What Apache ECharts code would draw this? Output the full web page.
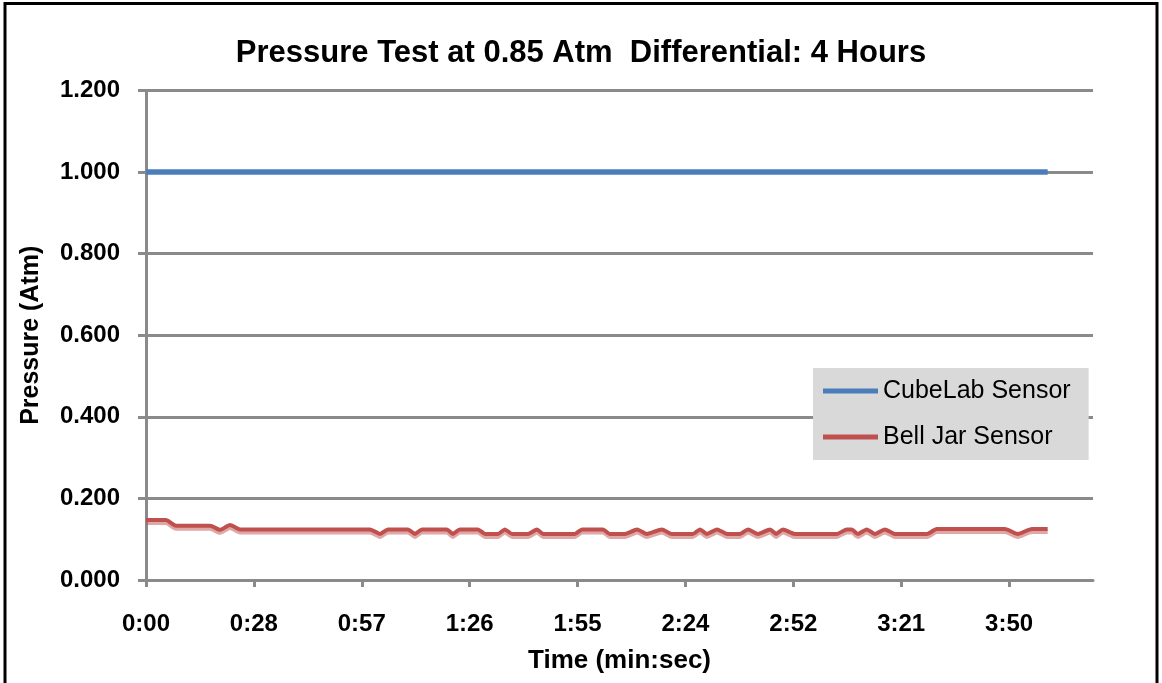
<!DOCTYPE html>
<html>
<head>
<meta charset="utf-8">
<title>Pressure Test</title>
<script src="https://cdn.jsdelivr.net/npm/echarts@6/dist/echarts.min.js"></script>
<style>
  html, body { margin: 0; padding: 0; background: #fff; }
  #main { width: 1162px; height: 683px; }
</style>
</head>
<body>
<div id="main"></div>
<script>
// time in minutes from start of test
var tickValues = [0, 28.8, 57.6, 86.4, 115.2, 144, 172.8, 201.6, 230.4];
var tickLabels = ['0:00', '0:28', '0:57', '1:26', '1:55', '2:24', '2:52', '3:21', '3:50'];

var cubeLabTime = [0, 240.7];
var cubeLabValues = [1.0, 1.0];

var bellJarTime = [
    0, 5.3, 8.0, 17.1, 19.8, 22.4, 25.1, 59.8, 62.5, 64.6,
    69.9, 71.8, 73.7, 80.3, 81.9, 83.8, 88.6, 90.5, 94.0, 95.8,
    97.7, 102.0, 104.4, 106.0, 114.5, 116.4, 122.0, 123.8, 127.9, 131.1,
    133.7, 137.7, 140.4, 146.0, 147.9, 149.7, 152.4, 155.1, 158.5, 160.7,
    163.4, 166.6, 168.2, 170.0, 173.2, 184.4, 187.1, 188.4, 190.0, 192.4,
    194.6, 197.2, 199.9, 208.5, 211.1, 229.3, 232.7, 236.5, 240.7
];
var bellJarValues = [
    0.147, 0.147, 0.133, 0.133, 0.123, 0.135, 0.124, 0.124, 0.113, 0.124,
    0.124, 0.113, 0.124, 0.124, 0.113, 0.124, 0.124, 0.113, 0.113, 0.124,
    0.113, 0.113, 0.124, 0.113, 0.113, 0.124, 0.124, 0.113, 0.113, 0.124,
    0.113, 0.124, 0.113, 0.113, 0.124, 0.113, 0.124, 0.113, 0.113, 0.124,
    0.113, 0.124, 0.113, 0.124, 0.113, 0.113, 0.124, 0.124, 0.113, 0.124,
    0.113, 0.124, 0.113, 0.113, 0.125, 0.125, 0.113, 0.125, 0.125
];

function pairs(xs, ys) {
    return xs.map(function (x, i) { return [x, ys[i]]; });
}

var dom = document.getElementById('main');
var myChart = echarts.init(dom, null, { renderer: 'canvas' });

var font = "'Liberation Sans', Arial, sans-serif";
var gridGray = '#8a8a8a';

var option = {
    animation: false,
    backgroundColor: '#ffffff',
    title: {
        text: 'Pressure Test at 0.85 Atm  Differential: 4 Hours',
        left: 'center',
        top: 33,
        textStyle: { fontFamily: font, fontWeight: 'bold', fontSize: 31, color: '#000' }
    },
    grid: { left: 146, right: 69, top: 90.5, bottom: 103 },
    legend: {
        orient: 'vertical',
        left: 813,
        top: 368,
        backgroundColor: '#d9d9d9',
        padding: [8, 18, 8, 10],
        itemGap: 16,
        itemWidth: 55,
        itemHeight: 5,
        icon: 'rect',
        textStyle: { fontFamily: font, fontSize: 25, color: '#000', lineHeight: 30 },
        data: ['CubeLab Sensor', 'Bell Jar Sensor']
    },
    xAxis: {
        type: 'value',
        min: 0,
        max: 252.8,
        name: 'Time (min:sec)',
        nameLocation: 'middle',
        nameGap: 68,
        nameTextStyle: { fontFamily: font, fontWeight: 'bold', fontSize: 26, color: '#000' },
        splitLine: { show: false },
        axisLine: { show: true, lineStyle: { color: gridGray, width: 3 } },
        axisTick: { show: true, customValues: tickValues, length: 7, lineStyle: { color: gridGray, width: 3 } },
        axisLabel: {
            customValues: tickValues,
            margin: 32,
            fontFamily: font, fontWeight: 'bold', fontSize: 24, color: '#000',
            formatter: function (v) {
                var i = tickValues.indexOf(v);
                return i >= 0 ? tickLabels[i] : '';
            }
        }
    },
    yAxis: {
        type: 'value',
        min: 0,
        max: 1.2,
        interval: 0.2,
        name: 'Pressure (Atm)',
        nameLocation: 'middle',
        nameGap: 102,
        nameTextStyle: { fontFamily: font, fontWeight: 'bold', fontSize: 25, color: '#000' },
        splitLine: { show: true, lineStyle: { color: gridGray, width: 3 } },
        axisLine: { show: true, lineStyle: { color: gridGray, width: 3 } },
        axisTick: { show: true, length: 8, lineStyle: { color: gridGray, width: 3 } },
        axisLabel: {
            margin: 26,
            fontFamily: font, fontWeight: 'bold', fontSize: 24, color: '#000',
            formatter: function (v) { return v.toFixed(3); }
        }
    },
    series: [
        {
            name: 'CubeLab Sensor',
            type: 'line',
            symbol: 'none',
            lineStyle: { color: '#4a7ebb', width: 5.5 },
            itemStyle: { color: '#4a7ebb' },
            data: pairs(cubeLabTime, cubeLabValues)
        },
        {
            name: 'Bell Jar Sensor',
            type: 'line',
            symbol: 'none',
            smooth: 0.2,
            lineStyle: {
                color: '#c0504d', width: 4,
                shadowColor: 'rgba(192, 80, 77, 0.5)', shadowOffsetY: 3, shadowBlur: 0
            },
            itemStyle: { color: '#c0504d' },
            data: pairs(bellJarTime, bellJarValues)
        }
    ],
    graphic: [
        {
            type: 'rect',
            silent: true,
            shape: { x: 5, y: 3.5, width: 1152, height: 700 },
            style: { fill: 'none', stroke: '#000', lineWidth: 3 }
        }
    ]
};

myChart.setOption(option);
window.addEventListener('resize', myChart.resize);
</script>
</body>
</html>
